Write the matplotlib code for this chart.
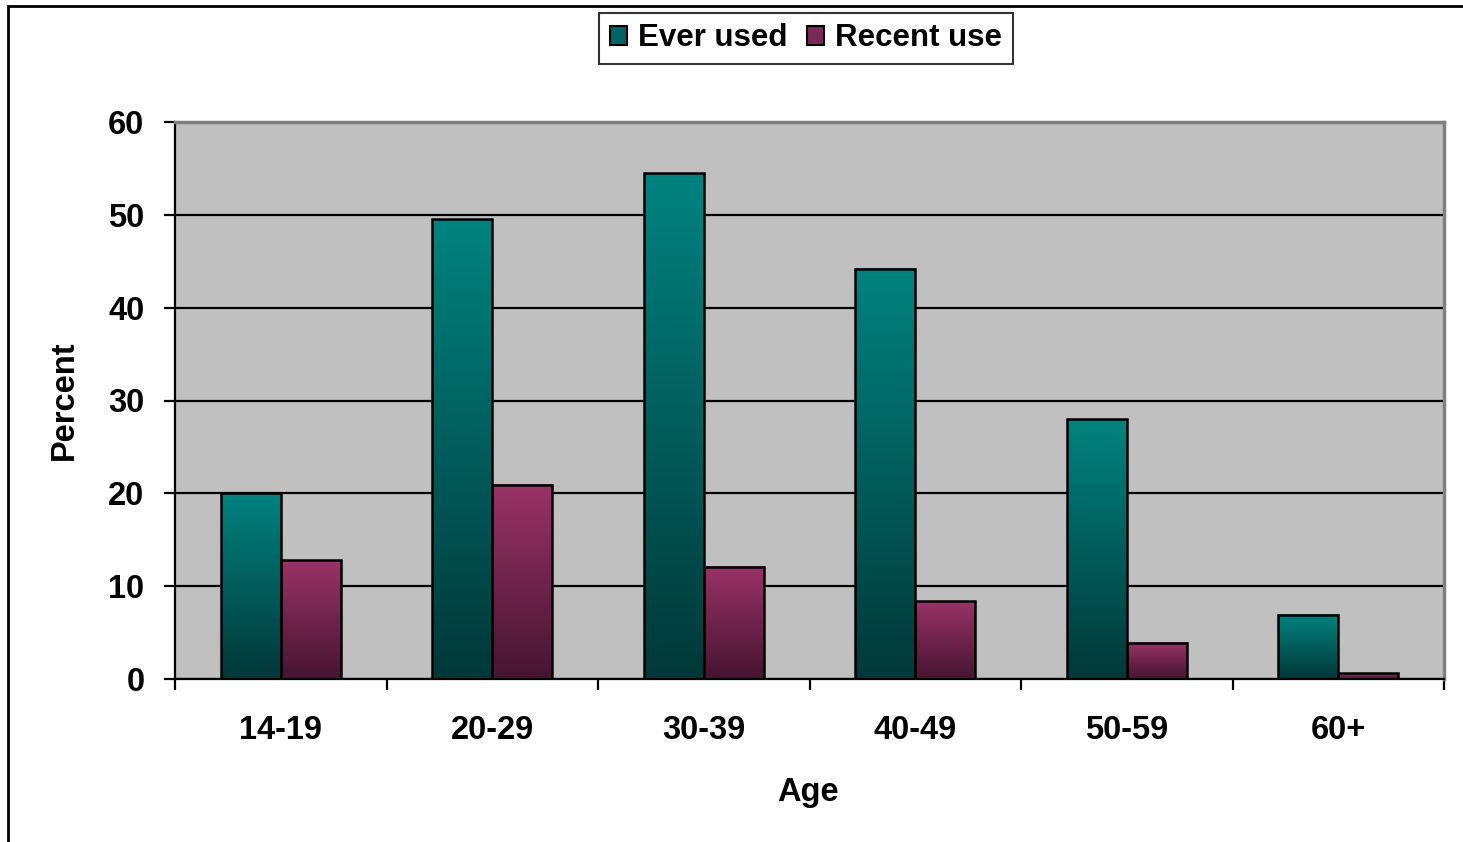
import numpy as np
import matplotlib
matplotlib.use('Agg')
import matplotlib.pyplot as plt
from matplotlib.colors import LinearSegmentedColormap
from matplotlib.patches import Rectangle, Patch

plt.rcParams['font.family'] = ['Liberation Sans', 'DejaVu Sans']
plt.rcParams['font.weight'] = 'bold'

# data
ages = ['14-19', '20-29', '30-39', '40-49', '50-59', '60+']
ever_used = [20.0, 49.5, 54.5, 44.2, 28.0, 6.9]
recent_use = [12.8, 20.9, 12.1, 8.4, 3.9, 0.6]

# gradient colours (top -> bottom)
teal_top, teal_bottom = '#00837f', '#003838'
plum_top, plum_bottom = '#993366', '#461530'

fig = plt.figure(figsize=(14.63, 8.42), dpi=100)
W, H = 1463, 842
ax = fig.add_axes([175 / W, 1 - 679 / H, (1444 - 175) / W, (679 - 122) / H])
ax.set_facecolor('#c0c0c0')

x = np.arange(len(ages))
w = 0.284

grad = np.linspace(1, 0, 256).reshape(-1, 1)


def gradient_bars(xpos, vals, c_top, c_bottom):
    cmap = LinearSegmentedColormap.from_list('g', [c_bottom, c_top])
    bars = ax.bar(xpos, vals, width=w, align='edge', facecolor='none',
                  edgecolor='black', linewidth=1.8, zorder=3)
    for b in bars:
        x0 = b.get_x()
        ax.imshow(grad, extent=[x0, x0 + b.get_width(), 0, b.get_height()],
                  aspect='auto', cmap=cmap, interpolation='bilinear', zorder=2)
    return bars


# ever used sits left of the category centre, recent use right of it
gradient_bars(x - w, ever_used, teal_top, teal_bottom)
gradient_bars(x, recent_use, plum_top, plum_bottom)

ax.set_xlim(-0.5, len(ages) - 0.5)
ax.set_ylim(0, 60)

ax.set_yticks(np.arange(0, 61, 10))
ax.yaxis.grid(True, color='black', linewidth=1.6)
ax.set_axisbelow(True)

ax.set_xticks(np.arange(-0.5, len(ages), 1.0))
ax.set_xticklabels([])
ax.set_xticks(x, minor=True)
ax.set_xticklabels(ages, minor=True)
ax.tick_params(axis='x', which='major', direction='out', length=8, width=1.6)
ax.tick_params(axis='x', which='minor', length=0, pad=26, labelsize=23.5)
ax.tick_params(axis='y', direction='out', length=8, width=1.6, pad=14, labelsize=23.5)
for lab in ax.get_yticklabels() + ax.get_xticklabels(minor=True):
    lab.set_fontweight('bold')

for s in ['left', 'bottom']:
    ax.spines[s].set_color('black')
    ax.spines[s].set_linewidth(1.6)
for s in ['top', 'right']:
    ax.spines[s].set_color('#808080')
    ax.spines[s].set_linewidth(2.5)

ax.set_xlabel('Age', fontsize=23.5, fontweight='bold', va='center')
ax.xaxis.set_label_coords((808 - 175) / 1269, (679 - 792) / 557)
ax.set_ylabel('Percent', fontsize=23.5, fontweight='bold', va='center', ha='center')
ax.yaxis.set_label_coords((64 - 175) / 1269, 0.5)

handles = [Patch(facecolor='#006464', edgecolor='black', linewidth=1.5, label='Ever used'),
           Patch(facecolor='#7a2a55', edgecolor='black', linewidth=1.5, label='Recent use')]
leg = fig.legend(handles=handles, loc='center', bbox_to_anchor=(806 / W, 1 - 38.5 / H),
                 ncol=2, prop={'weight': 'bold', 'size': 22.5},
                 handlelength=0.55, handleheight=0.55, handletextpad=0.35,
                 columnspacing=0.6, borderpad=0.35, borderaxespad=0,
                 fancybox=False, frameon=True, edgecolor='black')
leg.get_frame().set_linewidth(1.5)

# outer chart border
fig.patches.append(Rectangle((8 / W, -0.05), 1.2, 1 - 6 / H + 0.05,
                             transform=fig.transFigure, fill=False,
                             edgecolor='black', linewidth=2))

fig.savefig('out.png', dpi=100)
